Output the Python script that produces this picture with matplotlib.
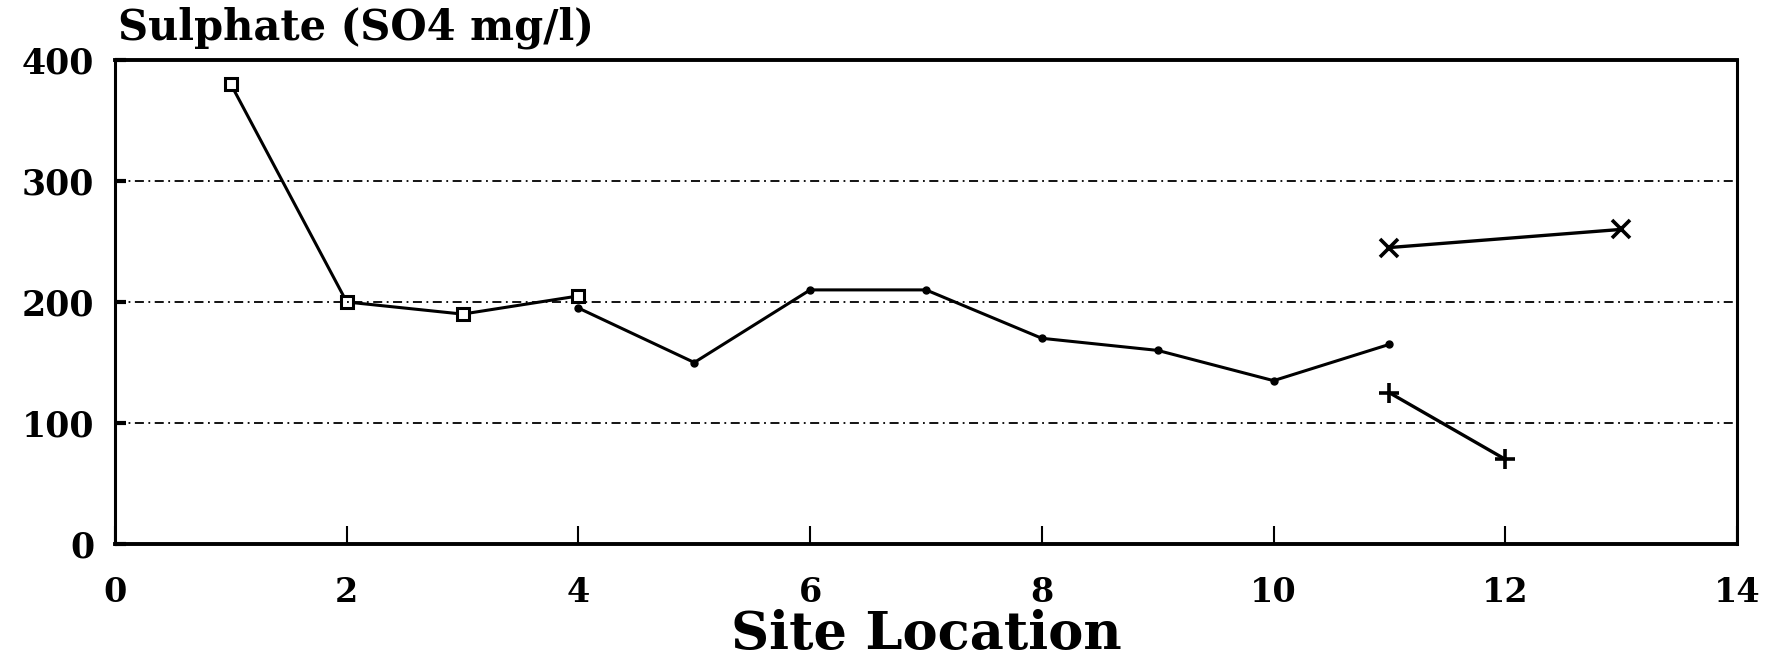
import matplotlib.pyplot as plt

# site locations and sulphate readings (mg/l) per sampling series
sq_sites = [1, 2, 3, 4]
sq_vals = [380, 200, 190, 205]

dot_sites = [4, 5, 6, 7, 8, 9, 10, 11]
dot_vals = [195, 150, 210, 210, 170, 160, 135, 165]

x_sites = [11, 13]
x_vals = [245, 260]

plus_sites = [11, 12]
plus_vals = [125, 70]

xticks = [0, 2, 4, 6, 8, 10, 12, 14]
yticks = [0, 100, 200, 300, 400]

plt.rcParams['font.family'] = ['DejaVu Serif']
plt.rcParams['font.weight'] = 'bold'

fig = plt.figure(figsize=(17.74, 6.65), dpi=100)
ax = fig.add_axes([115 / 1774, 1 - 544 / 665, (1737 - 115) / 1774, (544 - 60) / 665])

ax.plot(sq_sites, sq_vals, color='black', lw=2.2, marker='s', ms=9,
        mfc='white', mec='black', mew=2.2)
ax.plot(dot_sites, dot_vals, color='black', lw=2.2, marker='o', ms=5)
ax.plot(x_sites, x_vals, color='black', lw=2.4, marker='x', ms=13, mew=2.6)
ax.plot(plus_sites, plus_vals, color='black', lw=2.4, marker='+', ms=15, mew=2.6)

ax.set_xlim(0, 14)
ax.set_ylim(0, 400)
ax.set_xticks(xticks)
ax.set_yticks(yticks)
ax.tick_params(axis='x', direction='in', length=13, width=1.5, pad=23, labelsize=24)
ax.tick_params(axis='y', direction='in', length=8, width=3, pad=15, labelsize=25)

for y in [100, 200, 300]:
    ax.axhline(y, color='black', lw=1.3, ls='-.', dashes=(5, 2.5, 1, 2.5))

for side in ['top', 'bottom']:
    ax.spines[side].set_linewidth(2.8)
for side in ['left', 'right']:
    ax.spines[side].set_linewidth(2.2)

ax.set_xlabel('Site Location', fontsize=38, fontweight='bold', labelpad=0)
fig.text(118 / 1774, 1 - 28 / 665, 'Sulphate (SO4 mg/l)', fontsize=30,
         fontweight='bold', va='center', ha='left')

fig.savefig('out.png', dpi=100)
